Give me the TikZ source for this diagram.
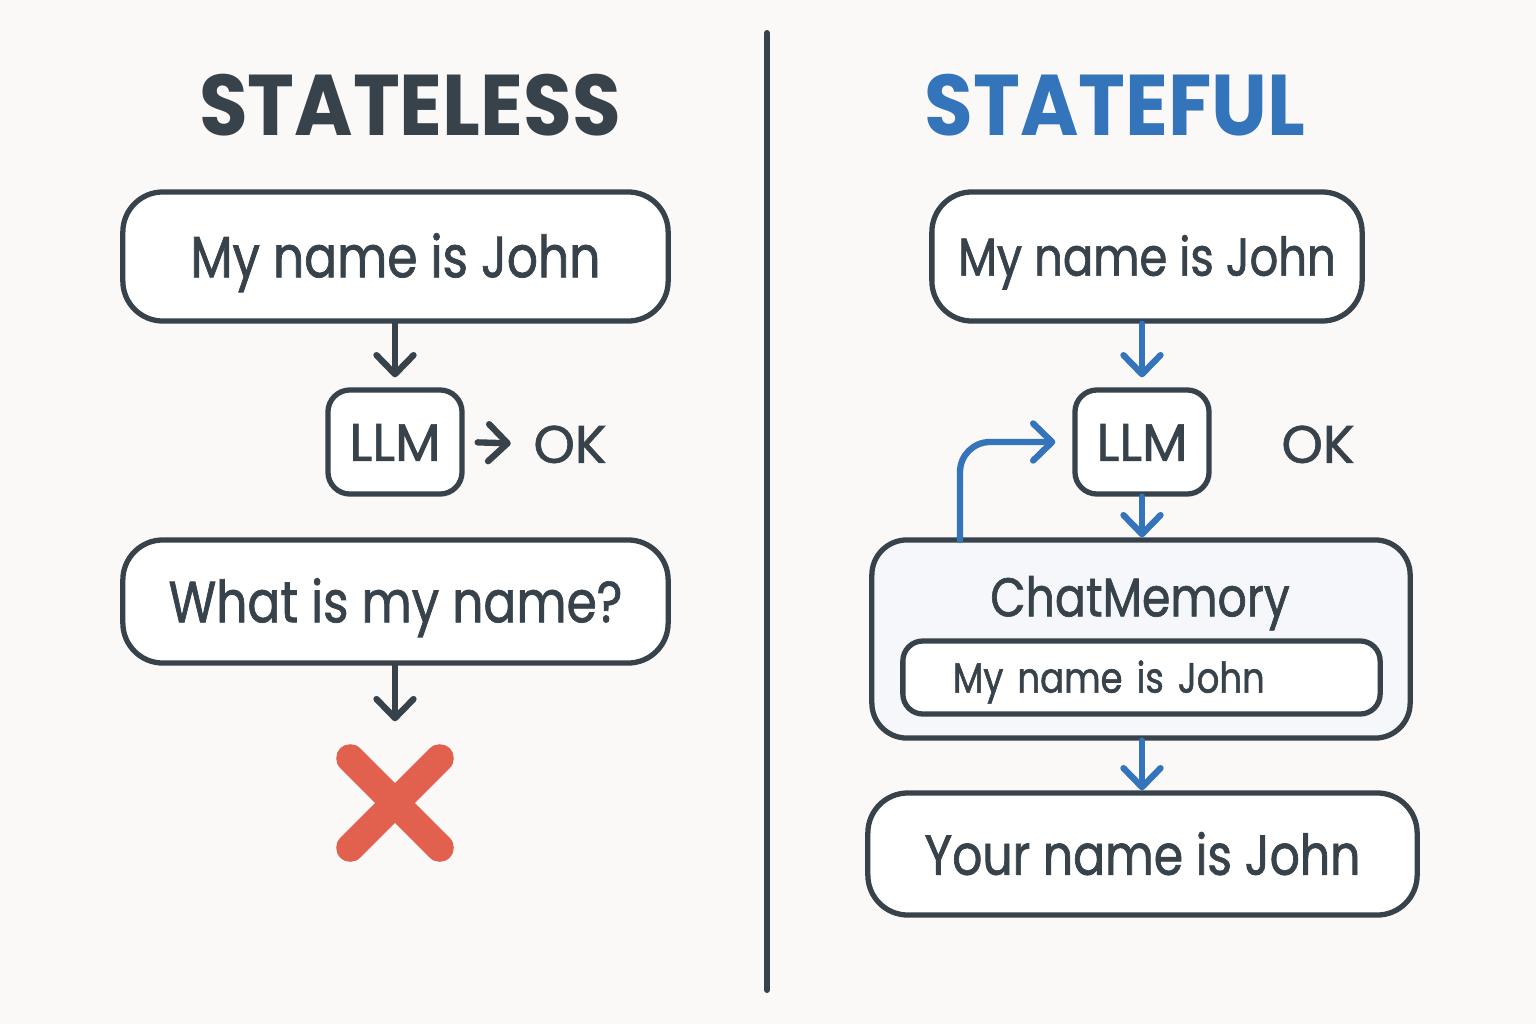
\documentclass[tikz,border=0pt]{standalone}
\usepackage{fontspec}
\setmainfont{Poppins}
\newfontfamily\bodyfont{Poppins}[FakeStretch=0.84, FakeBold=1.2]
\newfontfamily\tagfont{Poppins}[FakeBold=1.2]
\newfontfamily\headfont{Poppins}[FakeStretch=0.92]
\usetikzlibrary{arrows.meta}

\definecolor{ink}{HTML}{37424A}
\definecolor{stblue}{HTML}{3474BA}
\definecolor{xred}{HTML}{E2604E}
\definecolor{paper}{HTML}{FAF9F7}
\definecolor{memfill}{HTML}{F5F7FA}

\tikzset{
  title/.style={text=ink, inner sep=0, font=\headfont\fontsize{24.5}{28}\selectfont\bfseries},
  msgbox/.style={draw=ink, line width=1.5pt, rounded corners=0.4cm, fill=white,
    minimum width=5.45cm, minimum height=1.29cm, text=ink, text height=11.8pt, text depth=0pt,
    font=\bodyfont\fontsize{16.5}{18}\selectfont},
  llmbox/.style={draw=ink, line width=1.5pt, rounded corners=0.22cm, fill=white,
    minimum width=1.34cm, minimum height=1.04cm, text=ink, text height=10.7pt, text depth=0pt,
    font=\tagfont\fontsize{15}{17}\selectfont},
  oklabel/.style={text=ink, inner sep=0, text height=10.7pt, text depth=0pt,
    font=\tagfont\fontsize{15}{17}\selectfont},
  membox/.style={draw=ink, line width=1.5pt, rounded corners=0.35cm, fill=memfill,
    minimum width=5.38cm, minimum height=1.98cm},
  innerbox/.style={draw=ink, line width=1.5pt, rounded corners=0.2cm, fill=white,
    text width=3.77cm, inner xsep=0.5cm, minimum height=0.73cm, align=left,
    text=ink, text height=8.6pt, text depth=0pt, font=\bodyfont\fontsize{12}{14}\selectfont},
  flow/.style={draw=ink, line width=1.8pt, line cap=round,
    -{Straight Barb[length=0.19cm,width=0.37cm,line cap=round,line join=round]}},
  memflow/.style={flow, draw=stblue},
  xline/.style={draw=xred, line width=8pt, line cap=round},
}

\begin{document}
\begin{tikzpicture}[x=0.01cm,y=-0.01cm]
  \fill[paper] (0,0) rectangle (1536,1024);
  \useasboundingbox (0,0) rectangle (1536,1024);

  % divider
  \draw[ink, line width=1.7pt, line cap=round] (767,33) -- (767,990);

  % stateless
  \node[title] (tl) at (410,105) {STATELESS};
  \node[msgbox] (a1) at (395.5,256.5) {My name is John};
  \node[llmbox] (a2) at (395,442) {LLM};
  \node[oklabel] (aok) at (570,444) {OK};
  \node[msgbox, minimum height=1.23cm] (a3) at (395.5,601.5) {What is my name?};
  \node[minimum size=0.88cm, inner sep=0] (xmark) at (395,803) {};
  \draw[xline] (xmark.north west) -- (xmark.south east);
  \draw[xline] (xmark.north east) -- (xmark.south west);

  \draw[flow, shorten >=0.1cm] (a1.south -| a2) -- (a2);
  \draw[flow, shorten <=0.13cm, shorten >=0.22cm] (a2.east) -- (aok.west);
  \draw[flow, shorten >=0.37cm] (a3.south -| xmark) -- (xmark.north);

  % stateful
  \node[title, text=stblue] (tr) at (1115,105) {STATEFUL};
  \node[msgbox, minimum width=4.30cm, text height=10.9pt,
    font=\bodyfont\fontsize{15.2}{17}\selectfont] (b1) at (1147,256.5) {My name is John};
  \node[llmbox] (b2) at (1142,442) {LLM};
  \node[oklabel] (bok) at (1318,444) {OK};
  \node[membox] (mem) at (1141,639) {};
  \node[text=ink, inner sep=0, text height=11pt, text depth=0pt,
    font=\bodyfont\fontsize{15.5}{17}\selectfont] (memlbl) at (1140,597) {ChatMemory};
  \node[innerbox] (memmsg) at (1141.5,677.5) {My name is John};
  \node[msgbox, minimum width=5.49cm, minimum height=1.22cm,
    font=\bodyfont\fontsize{16}{18}\selectfont] (b3) at (1142.5,854) {Your name is John};
  \coordinate (fb) at (960,540);

  \draw[memflow, shorten >=0.1cm] (b1.south -| b2) -- (b2);
  \draw[memflow] (b2) -- (b2 |- mem.north);
  \draw[memflow, rounded corners=0.3cm, shorten >=0.17cm] (fb) |- (b2.west);
  \draw[memflow] (mem.south -| b2) -- (b3.north -| b2);
\end{tikzpicture}
\end{document}
